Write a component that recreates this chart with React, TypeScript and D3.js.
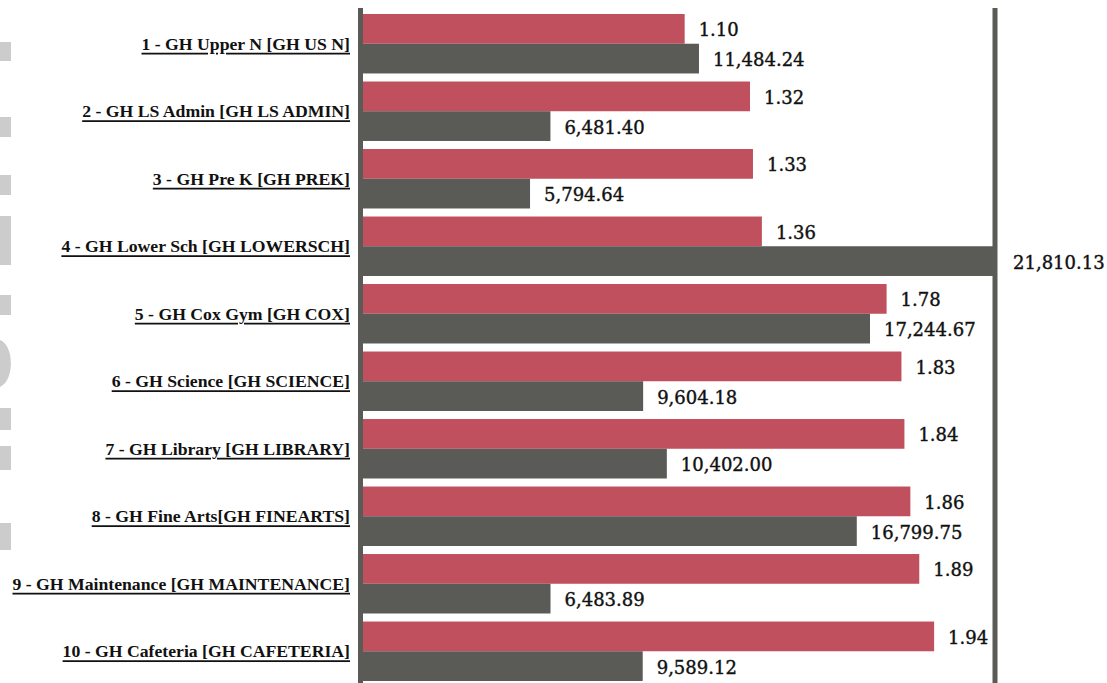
import React from "react";
import * as d3 from "d3";

const categories = [
  "1 - GH Upper N [GH US N]",
  "2 - GH LS Admin [GH LS ADMIN]",
  "3 - GH Pre K [GH PREK]",
  "4 - GH Lower Sch [GH LOWERSCH]",
  "5 - GH Cox Gym [GH COX]",
  "6 - GH Science [GH SCIENCE]",
  "7 - GH Library [GH LIBRARY]",
  "8 - GH Fine Arts[GH FINEARTS]",
  "9 - GH Maintenance [GH MAINTENANCE]",
  "10 - GH Cafeteria [GH CAFETERIA]",
];
const ratioValues = [1.1, 1.32, 1.33, 1.36, 1.78, 1.83, 1.84, 1.86, 1.89, 1.94];
const totalValues = [
  11484.24, 6481.4, 5794.64, 21810.13, 17244.67, 9604.18, 10402.0, 16799.75, 6483.89, 9589.12,
];
const seriesKeys = ["ratio", "total"];

const W = 1107;
const H = 683;
const RED = "#c1505e";
const GRAY = "#5a5b56";
const VFONT = "'DejaVu Serif', serif";
const LFONT = "'Liberation Serif', serif";

export default function App() {
  const x0 = 358;
  const x1 = 995;
  const y = d3.scaleBand<string>().domain(categories).range([14, 681]).paddingInner(0.119).paddingOuter(0);
  const ySub = d3.scaleBand<string>().domain(seriesKeys).range([0, y.bandwidth()]).padding(0);
  const xRatio = d3.scaleLinear().domain([0, 2.145]).range([x0, x1]);
  const xTotal = d3.scaleLinear().domain([0, 21455]).range([x0, x1]);
  const fmt2 = d3.format(",.2f");

  // decorative clipped fragments of a large light-grey title at the far left
  const fragments: [number, number][] = [
    [42, 61],
    [117, 137],
    [175, 195],
    [216, 265],
    [295, 315],
    [408, 430],
    [446, 470],
    [523, 550],
  ];

  return (
    <svg
      width={W}
      height={H}
      style={{ position: "absolute", left: 0, top: 0, display: "block", background: "#fff" }}
    >
      <g fill="#cccccc">
        {fragments.map(([a, b], i) => (
          <rect key={i} x={0} y={a} width={11} height={b - a} />
        ))}
        <path d="M0,340 C14,345 15,380 0,387 Z" />
      </g>
      {categories.map((c, i) => {
        const by = y(c)!;
        const rv = ratioValues[i];
        const tv = totalValues[i];
        const rEnd = Math.min(xRatio(rv), x1);
        const tEnd = Math.min(xTotal(tv), x1);
        const clippedT = xTotal(tv) > x1;
        const ry = by + ySub("ratio")!;
        const ty = by + ySub("total")!;
        return (
          <g key={c}>
            <rect x={x0} y={ry} width={rEnd - x0} height={ySub.bandwidth()} fill={RED} />
            <rect x={x0} y={ty} width={tEnd - x0} height={ySub.bandwidth()} fill={GRAY} />
            <text
              x={rEnd + 14}
              y={ry + ySub.bandwidth() / 2 + 1}
              dominantBaseline="central"
              fontFamily={VFONT}
              fontSize={18}
              fill="#111"
              stroke="#111"
              strokeWidth={0.4}
            >
              {fmt2(rv)}
            </text>
            <text
              x={tEnd + (clippedT ? 18 : 14)}
              y={ty + ySub.bandwidth() / 2 + 1}
              dominantBaseline="central"
              fontFamily={VFONT}
              fontSize={18}
              fill="#111"
              stroke="#111"
              strokeWidth={0.4}
            >
              {fmt2(tv)}
            </text>
            <text
              x={350}
              y={by + y.bandwidth() / 2}
              dominantBaseline="central"
              textAnchor="end"
              fontFamily={LFONT}
              fontSize={17.7}
              fontWeight="bold"
              textDecoration="underline"
              fill="#111"
            >
              {c}
            </text>
          </g>
        );
      })}
      <line x1={x0 + 2.5} x2={x0 + 2.5} y1={8} y2={H} stroke={GRAY} strokeWidth={5} />
      <line x1={x1} x2={x1} y1={8} y2={H} stroke={GRAY} strokeWidth={5} />
    </svg>
  );
}
